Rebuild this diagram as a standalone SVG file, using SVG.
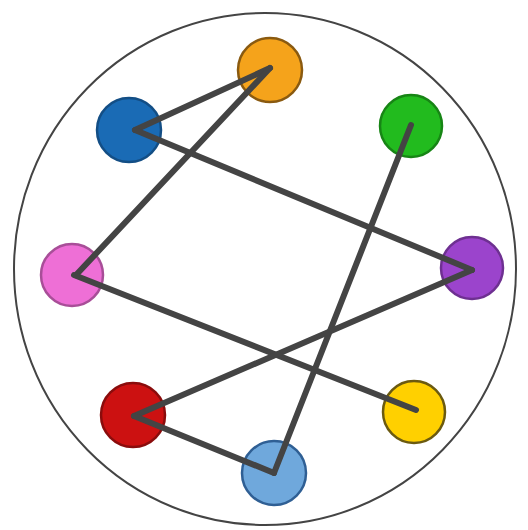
<svg xmlns="http://www.w3.org/2000/svg" width="528" height="530" viewBox="0 0 528 530">
<style>
.n{stroke-width:2.5}
.e{stroke:#444;stroke-width:6;stroke-linecap:round;fill:none}
</style>
<rect width="528" height="530" fill="#fff"/>
<ellipse cx="265" cy="269" rx="251" ry="256" fill="none" stroke="#444" stroke-width="2"/>
<g id="orange"><circle class="n" cx="270" cy="70" r="32" fill="#F5A31B" stroke="#8a5a10"/></g>
<g id="blue"><circle class="n" cx="129" cy="130" r="32" fill="#1A6BB5" stroke="#134e85"/></g>
<g id="green"><circle class="n" cx="411" cy="126" r="31" fill="#22BB1E" stroke="#178515"/></g>
<g id="pink"><circle class="n" cx="72" cy="275" r="31" fill="#EE6FD6" stroke="#a84e98"/></g>
<g id="purple"><circle class="n" cx="472" cy="268" r="31" fill="#9B44CC" stroke="#6e3091"/></g>
<g id="red"><circle class="n" cx="133" cy="415" r="32" fill="#CC1111" stroke="#8a0c0c"/></g>
<g id="yellow"><circle class="n" cx="414" cy="412" r="31" fill="#FFD000" stroke="#6b5a10"/></g>
<g id="lightblue"><circle class="n" cx="274" cy="473" r="32" fill="#6FA8DC" stroke="#2f5f94"/></g>
<g id="connectors">
<line class="e" x1="135" y1="130" x2="270" y2="68"/>
<line class="e" x1="270" y1="68" x2="76" y2="275"/>
<line class="e" x1="135" y1="130" x2="472" y2="270"/>
<line class="e" x1="411" y1="125" x2="274" y2="473"/>
<line class="e" x1="74" y1="275" x2="416" y2="410"/>
<line class="e" x1="472" y1="270" x2="134" y2="416"/>
<line class="e" x1="134" y1="416" x2="274" y2="473"/>
</g>
</svg>
